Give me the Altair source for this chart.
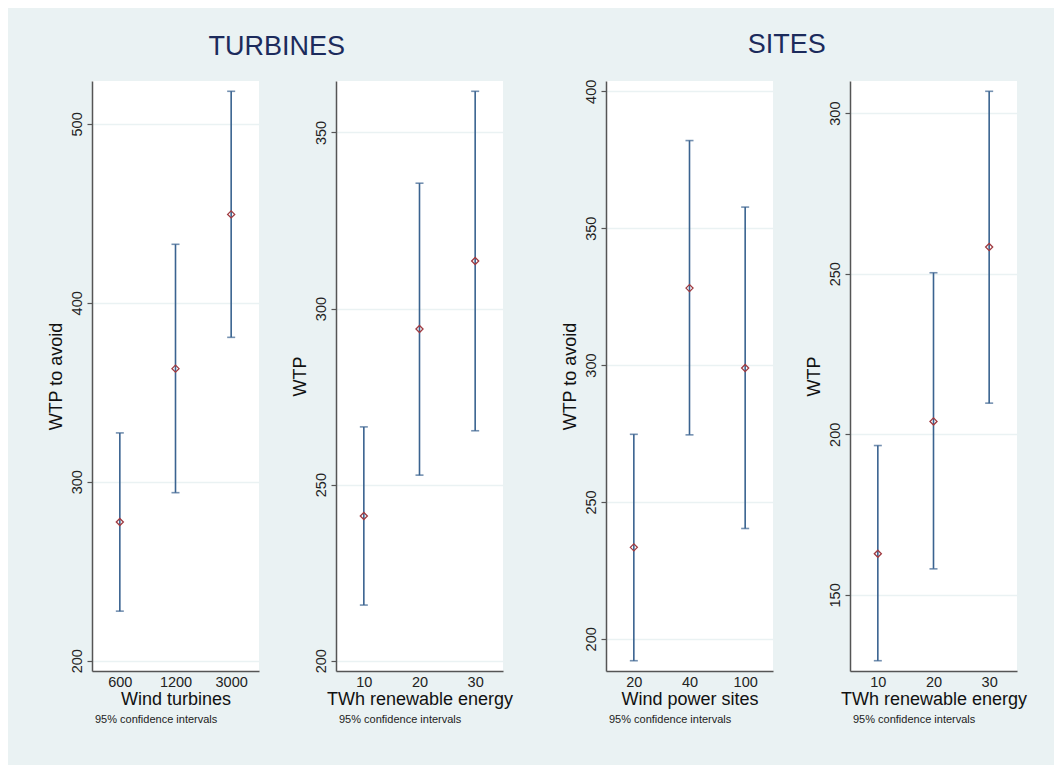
import altair as alt
import pandas as pd

# ---------------- data ----------------
# TURBINES panel 1: Wind turbines
p1_cat = ["600", "1200", "3000"]
p1_mean = [277.5, 363.2, 449.4]
p1_lo = [227.7, 293.9, 380.7]
p1_hi = [327.3, 432.7, 518.2]
p1_ticks = [200, 300, 400, 500]

# TURBINES panel 2: TWh renewable energy
p2_cat = ["10", "20", "30"]
p2_mean = [241.1, 294.2, 313.5]
p2_lo = [215.8, 252.7, 265.3]
p2_hi = [266.4, 335.6, 361.7]
p2_ticks = [200, 250, 300, 350]

# SITES panel 3: Wind power sites
p3_cat = ["20", "40", "100"]
p3_mean = [233.4, 328.1, 298.9]
p3_lo = [192.0, 274.5, 240.3]
p3_hi = [274.7, 382.0, 357.7]
p3_ticks = [200, 250, 300, 350, 400]

# SITES panel 4: TWh renewable energy
p4_cat = ["10", "20", "30"]
p4_mean = [162.8, 204.0, 258.3]
p4_lo = [129.5, 158.1, 209.7]
p4_hi = [196.5, 250.3, 306.8]
p4_ticks = [150, 200, 250, 300]

BG = "#eaf2f3"
BAR = "#3a6390"
PT = "#a03a40"
AX = "#555555"
FONT = "Liberation Sans"
W, H = 167, 590


def panel(cats, mean, lo, hi, ticks, xtitle, ytitle):
    df = pd.DataFrame({"cat": cats, "mean": mean, "lo": lo, "hi": hi})
    vmin = min(min(lo), ticks[0])
    vmax = max(max(hi), ticks[-1])
    pad = (vmax - vmin) * 10.3 / 570
    yscale = alt.Scale(domain=[vmin - pad, vmax + pad], nice=False, zero=False)
    yaxis = alt.Axis(
        title=ytitle, values=ticks, labelAngle=270, labelAlign="center",
        labelBaseline="bottom", labelPadding=3, tickSize=5, tickColor=AX,
        tickWidth=1.2, domainColor=AX, domainWidth=1.5, grid=True,
        gridColor=BG, gridWidth=1.5, labelFontSize=14.5, titleFontSize=18,
        titlePadding=4, titleFontWeight="normal", labelColor="#222222",
        titleColor="#111111",
    )
    x = alt.X(
        "cat:N", sort=cats, scale=alt.Scale(type="point", padding=0.5),
        axis=alt.Axis(
            title=xtitle, ticks=False, labelAngle=0, labelPadding=4,
            domainColor=AX, domainWidth=1.5, grid=False, labelFontSize=14.5,
            titleFontSize=18, titlePadding=2, titleFontWeight="normal",
            labelColor="#222222", titleColor="#111111",
        ),
    )
    base = alt.Chart(df).encode(x=x)
    rule = base.mark_rule(color=BAR, strokeWidth=1.6).encode(
        y=alt.Y("lo:Q", scale=yscale, axis=yaxis), y2="hi:Q"
    )
    cap_lo = base.mark_tick(color=BAR, size=8, thickness=1.6).encode(
        y=alt.Y("lo:Q", scale=yscale, axis=yaxis)
    )
    cap_hi = base.mark_tick(color=BAR, size=8, thickness=1.6).encode(
        y=alt.Y("hi:Q", scale=yscale, axis=yaxis)
    )
    pts = base.mark_point(
        shape="diamond", filled=False, color=PT, size=50, strokeWidth=1.3, opacity=1
    ).encode(y=alt.Y("mean:Q", scale=yscale, axis=yaxis))
    return alt.layer(rule, cap_lo, cap_hi, pts).properties(
        width=W, height=H,
        title=alt.TitleParams(
            "95% confidence intervals", orient="bottom", anchor="start",
            frame="group", fontSize=11, fontWeight="normal", color="#222222",
            offset=5, dx=3,
        ),
    )


c1 = panel(p1_cat, p1_mean, p1_lo, p1_hi, p1_ticks, "Wind turbines", "WTP to avoid")
c2 = panel(p2_cat, p2_mean, p2_lo, p2_hi, p2_ticks, "TWh renewable energy", "WTP")
c3 = panel(p3_cat, p3_mean, p3_lo, p3_hi, p3_ticks, "Wind power sites", "WTP to avoid")
c4 = panel(p4_cat, p4_mean, p4_lo, p4_hi, p4_ticks, "TWh renewable energy", "WTP")


def group_title(t, dx):
    return alt.TitleParams(t, anchor="middle", fontSize=27, fontWeight="normal",
                           color="#1c2b5c", offset=20, dx=dx)


g1 = alt.hconcat(c1, c2, spacing=77, bounds="flush").properties(title=group_title("TURBINES", -3))
g2 = alt.hconcat(c3, c4, spacing=77, bounds="flush").properties(title=group_title("SITES", -7))

chart = (
    alt.hconcat(g1, g2, spacing=48)
    .properties(background=BG, padding={"left": 39, "top": 23, "right": 27, "bottom": 40})
    .configure(font=FONT)
    .configure_view(stroke=None, fill="white")
)

chart.save("out.html", embed_options={"renderer": "svg", "actions": False})
